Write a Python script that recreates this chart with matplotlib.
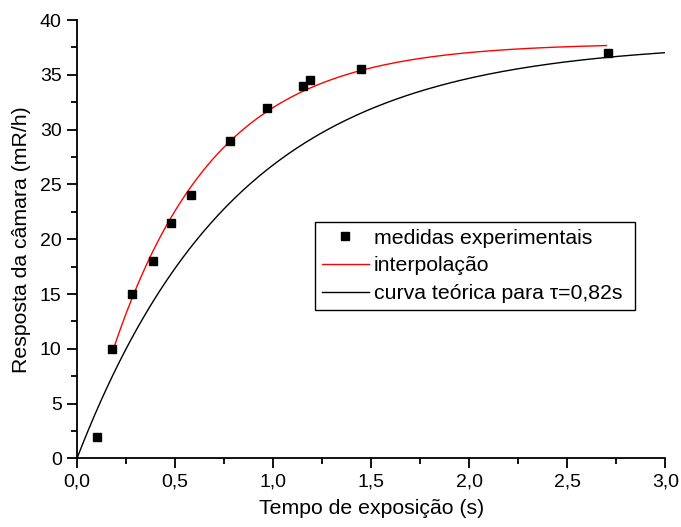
import numpy as np
import matplotlib
matplotlib.use("Agg")
import matplotlib.pyplot as plt
from matplotlib.ticker import MultipleLocator, FuncFormatter

plt.rcParams['font.family'] = ['Liberation Sans', 'DejaVu Sans']

# measured points
t_exp = [0.10, 0.18, 0.28, 0.39, 0.48, 0.58, 0.78, 0.97, 1.15, 1.19, 1.45, 2.71]
r_exp = [2.0, 10.0, 15.0, 18.0, 21.5, 24.0, 29.0, 32.0, 34.0, 34.5, 35.5, 37.0]

# fitted curve parameters
fit_amp, fit_tau, fit_t0 = 37.9, 0.523, 0.026
fit_range = (0.18, 2.70)

# theoretical curve, tau = 0.82 s
theo_amp, theo_tau = 38.0, 0.82
theo_range = (0.0, 3.0)

t_fit = np.linspace(*fit_range, 300)
r_fit = fit_amp * (1 - np.exp(-(t_fit - fit_t0) / fit_tau))
t_theo = np.linspace(*theo_range, 300)
r_theo = theo_amp * (1 - np.exp(-t_theo / theo_tau))

fig = plt.figure(figsize=(6.81, 5.27), dpi=100)
ax = fig.add_axes([0.113, 0.130, 0.864, 0.832])

ax.plot(t_exp, r_exp, 's', color='black', markersize=6, label='medidas experimentais', zorder=3)
ax.plot(t_fit, r_fit, color='red', lw=1.0, label='interpolação')
ax.plot(t_theo, r_theo, color='black', lw=1.0, label='curva teórica para τ=0,82s ')

ax.set_xlim(0, 3.0)
ax.set_ylim(0, 40)
ax.xaxis.set_major_locator(MultipleLocator(0.5))
ax.xaxis.set_minor_locator(MultipleLocator(0.25))
ax.yaxis.set_major_locator(MultipleLocator(5))
ax.yaxis.set_minor_locator(MultipleLocator(2.5))
ax.xaxis.set_major_formatter(FuncFormatter(lambda v, p: f"{v:.1f}".replace('.', ',')))
ax.yaxis.set_major_formatter(FuncFormatter(lambda v, p: f"{v:.0f}"))

for s in ['top', 'right']:
    ax.spines[s].set_visible(False)
for s in ['left', 'bottom']:
    ax.spines[s].set_linewidth(1.3)
ax.tick_params(which='major', direction='out', length=7, width=1.3, labelsize=14, pad=4)
ax.tick_params(which='minor', direction='out', length=4, width=1.3)

ax.set_xlabel('Tempo de exposição (s)', fontsize=15.3, labelpad=6)
ax.set_ylabel('Resposta da câmara (mR/h)', fontsize=15.3, labelpad=6)

leg = ax.legend(loc='upper left', bbox_to_anchor=(0.405, 0.54), fontsize=15.3,
                frameon=True, fancybox=False, edgecolor='black', framealpha=1,
                handlelength=2.2, handletextpad=0.25, borderpad=0.32,
                labelspacing=0.42, borderaxespad=0)
leg.get_frame().set_linewidth(1.0)

fig.savefig('out.png', dpi=100)
